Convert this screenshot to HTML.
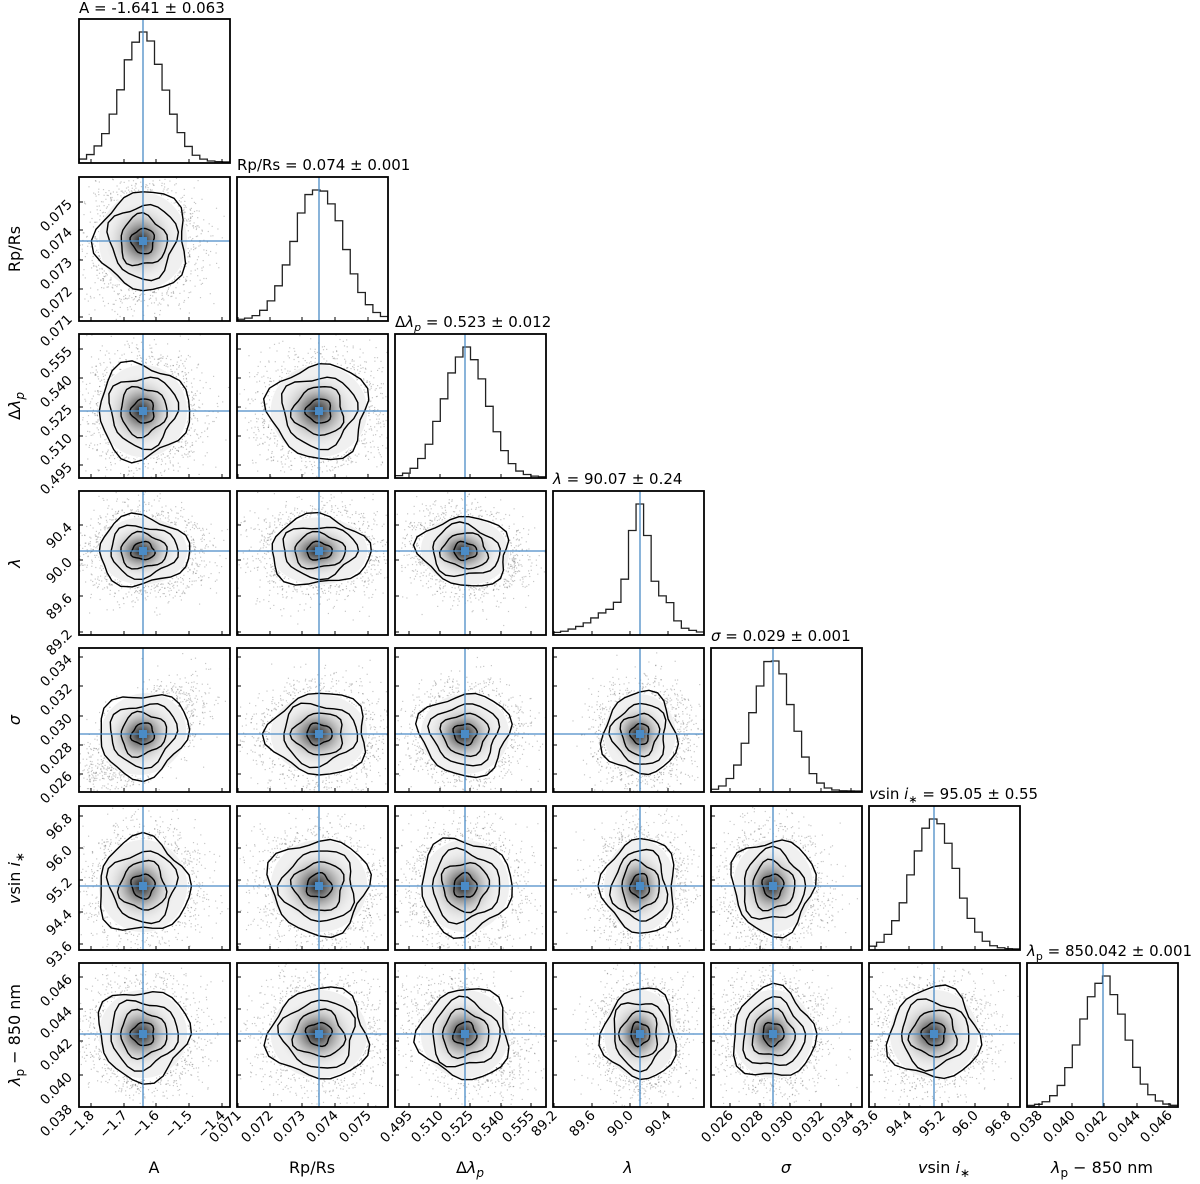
<!DOCTYPE html>
<html><head><meta charset="utf-8"><style>
html,body{margin:0;padding:0;background:#fff;}
svg{display:block;font-family:"DejaVu Sans","Liberation Sans",sans-serif;}
.t{font-size:13.5px;fill:#000;}
.ti{font-size:15px;fill:#000;}
.al{font-size:16px;fill:#000;}
</style></head><body>
<svg id="s" width="1200" height="1184" viewBox="0 0 1200 1184" xmlns="http://www.w3.org/2000/svg">
<defs id="defs"></defs>
<g id="g"></g>
<text class="ti" x="79" y="13">A = -1.641 ± 0.063</text>
<text class="ti" x="237" y="170">Rp/Rs = 0.074 ± 0.001</text>
<text class="ti" x="395" y="327">Δ<tspan font-style="italic">λ</tspan><tspan font-size="11" dy="4" font-style="italic">p</tspan><tspan dy="-4"> = 0.523 ± 0.012</tspan></text>
<text class="ti" x="553" y="484"><tspan font-style="italic">λ</tspan> = 90.07 ± 0.24</text>
<text class="ti" x="711" y="641"><tspan font-style="italic">σ</tspan> = 0.029 ± 0.001</text>
<text class="ti" x="869" y="799"><tspan font-style="italic">v</tspan>sin <tspan font-style="italic">i</tspan><tspan font-size="11" dy="4">∗</tspan><tspan dy="-4"> = 95.05 ± 0.55</tspan></text>
<text class="ti" x="1027" y="956"><tspan font-style="italic">λ</tspan><tspan font-size="11" dy="4">p</tspan><tspan dy="-4"> = 850.042 ± 0.001</tspan></text>
<g class="t" text-anchor="end">
<text x="95" y="1116" transform="rotate(-45 95 1116)">−1.8</text>
<text x="128" y="1116" transform="rotate(-45 128 1116)">−1.7</text>
<text x="160" y="1116" transform="rotate(-45 160 1116)">−1.6</text>
<text x="193" y="1116" transform="rotate(-45 193 1116)">−1.5</text>
<text x="226" y="1116" transform="rotate(-45 226 1116)">−1.4</text>
<text x="242" y="1116" transform="rotate(-45 242 1116)">0.071</text>
<text x="274" y="1116" transform="rotate(-45 274 1116)">0.072</text>
<text x="306" y="1116" transform="rotate(-45 306 1116)">0.073</text>
<text x="339" y="1116" transform="rotate(-45 339 1116)">0.074</text>
<text x="372" y="1116" transform="rotate(-45 372 1116)">0.075</text>
<text x="413" y="1116" transform="rotate(-45 413 1116)">0.495</text>
<text x="444" y="1116" transform="rotate(-45 444 1116)">0.510</text>
<text x="474" y="1116" transform="rotate(-45 474 1116)">0.525</text>
<text x="505" y="1116" transform="rotate(-45 505 1116)">0.540</text>
<text x="535" y="1116" transform="rotate(-45 535 1116)">0.555</text>
<text x="558" y="1116" transform="rotate(-45 558 1116)">89.2</text>
<text x="596" y="1116" transform="rotate(-45 596 1116)">89.6</text>
<text x="634" y="1116" transform="rotate(-45 634 1116)">90.0</text>
<text x="672" y="1116" transform="rotate(-45 672 1116)">90.4</text>
<text x="734" y="1116" transform="rotate(-45 734 1116)">0.026</text>
<text x="764" y="1116" transform="rotate(-45 764 1116)">0.028</text>
<text x="794" y="1116" transform="rotate(-45 794 1116)">0.030</text>
<text x="825" y="1116" transform="rotate(-45 825 1116)">0.032</text>
<text x="855" y="1116" transform="rotate(-45 855 1116)">0.034</text>
<text x="879" y="1116" transform="rotate(-45 879 1116)">93.6</text>
<text x="913" y="1116" transform="rotate(-45 913 1116)">94.4</text>
<text x="946" y="1116" transform="rotate(-45 946 1116)">95.2</text>
<text x="979" y="1116" transform="rotate(-45 979 1116)">96.0</text>
<text x="1012" y="1116" transform="rotate(-45 1012 1116)">96.8</text>
<text x="1043" y="1116" transform="rotate(-45 1043 1116)">0.038</text>
<text x="1076" y="1116" transform="rotate(-45 1076 1116)">0.040</text>
<text x="1108" y="1116" transform="rotate(-45 1108 1116)">0.042</text>
<text x="1141" y="1116" transform="rotate(-45 1141 1116)">0.044</text>
<text x="1173" y="1116" transform="rotate(-45 1173 1116)">0.046</text>
</g>
<g class="t" text-anchor="end">
<text x="73" y="205" transform="rotate(-45 73 205)">0.075</text>
<text x="73" y="233" transform="rotate(-45 73 233)">0.074</text>
<text x="73" y="263" transform="rotate(-45 73 263)">0.073</text>
<text x="73" y="292" transform="rotate(-45 73 292)">0.072</text>
<text x="73" y="320" transform="rotate(-45 73 320)">0.071</text>
<text x="73" y="352" transform="rotate(-45 73 352)">0.555</text>
<text x="73" y="381" transform="rotate(-45 73 381)">0.540</text>
<text x="73" y="410" transform="rotate(-45 73 410)">0.525</text>
<text x="73" y="439" transform="rotate(-45 73 439)">0.510</text>
<text x="73" y="468" transform="rotate(-45 73 468)">0.495</text>
<text x="73" y="528" transform="rotate(-45 73 528)">90.4</text>
<text x="73" y="563" transform="rotate(-45 73 563)">90.0</text>
<text x="73" y="599" transform="rotate(-45 73 599)">89.6</text>
<text x="73" y="635" transform="rotate(-45 73 635)">89.2</text>
<text x="73" y="660" transform="rotate(-45 73 660)">0.034</text>
<text x="73" y="689" transform="rotate(-45 73 689)">0.032</text>
<text x="73" y="719" transform="rotate(-45 73 719)">0.030</text>
<text x="73" y="748" transform="rotate(-45 73 748)">0.028</text>
<text x="73" y="777" transform="rotate(-45 73 777)">0.026</text>
<text x="73" y="819" transform="rotate(-45 73 819)">96.8</text>
<text x="73" y="851" transform="rotate(-45 73 851)">96.0</text>
<text x="73" y="883" transform="rotate(-45 73 883)">95.2</text>
<text x="73" y="915" transform="rotate(-45 73 915)">94.4</text>
<text x="73" y="947" transform="rotate(-45 73 947)">93.6</text>
<text x="73" y="980" transform="rotate(-45 73 980)">0.046</text>
<text x="73" y="1012" transform="rotate(-45 73 1012)">0.044</text>
<text x="73" y="1044" transform="rotate(-45 73 1044)">0.042</text>
<text x="73" y="1078" transform="rotate(-45 73 1078)">0.040</text>
<text x="73" y="1110" transform="rotate(-45 73 1110)">0.038</text>
</g>
<g class="al" text-anchor="middle">
<text x="154" y="1173">A</text>
<text x="312" y="1173">Rp/Rs</text>
<text x="470" y="1173">Δ<tspan font-style="italic">λ</tspan><tspan font-size="12" dy="4" font-style="italic">p</tspan></text>
<text x="628" y="1173" font-style="italic">λ</text>
<text x="786" y="1173" font-style="italic">σ</text>
<text x="944" y="1173"><tspan font-style="italic">v</tspan>sin <tspan font-style="italic">i</tspan><tspan font-size="12" dy="4">∗</tspan></text>
<text x="1102" y="1173"><tspan font-style="italic">λ</tspan><tspan font-size="12" dy="4">p</tspan><tspan dy="-4"> − 850 nm</tspan></text>
<text x="20" y="249" transform="rotate(-90 20 249)">Rp/Rs</text>
<text x="20" y="406" transform="rotate(-90 20 406)">Δ<tspan font-style="italic">λ</tspan><tspan font-size="12" dy="4" font-style="italic">p</tspan></text>
<text x="20" y="563" transform="rotate(-90 20 563)" font-style="italic">λ</text>
<text x="20" y="720" transform="rotate(-90 20 720)" font-style="italic">σ</text>
<text x="20" y="878" transform="rotate(-90 20 878)"><tspan font-style="italic">v</tspan>sin <tspan font-style="italic">i</tspan><tspan font-size="12" dy="4">∗</tspan></text>
<text x="20" y="1035" transform="rotate(-90 20 1035)"><tspan font-style="italic">λ</tspan><tspan font-size="12" dy="4">p</tspan><tspan dy="-4"> − 850 nm</tspan></text>
</g>
</svg>
<script>
(function(){
var NS="http://www.w3.org/2000/svg";
var g=document.getElementById('g'),defs=document.getElementById('defs');
var X=[79,237,395,553,711,869,1027],W=151;
var Y=[19,177,334,491,648,806,963],H=144;
var CX=[143,319,465,640,773,934,1103];
var CY=[0,241,411,551,734,886,1034];
var SX=[21,23,21,17,19,21,21];
var SY=[0,23,22,16,19,22,21];
var BT=[[12,45,77,110,143],[1,33,65,98,131],[14,45,75,106,136],[1,39,77,115],[19,49,79,110,140],[6,40,73,106,139],[12,45,77,110,142]];
var LT=[[],[25,53,83,112,140],[15,44,73,102,131],[34,69,105,141],[9,38,68,97,126],[10,42,74,106,138],[14,46,78,112,144]];
var BLUE="#4a8bc6";
var seed=12345;function rnd(){seed=(seed*16807)%2147483647;return seed/2147483647;}
function gauss(){var u=rnd()||1e-9,v=rnd();return Math.sqrt(-2*Math.log(u))*Math.cos(2*Math.PI*v);}
function el(n,a,p){var e=document.createElementNS(NS,n);for(var k in a)e.setAttribute(k,a[k]);(p||g).appendChild(e);return e;}
var rg=el('radialGradient',{id:'rg'},defs);
el('stop',{offset:'0','stop-color':'#000','stop-opacity':'0.9'},rg);
el('stop',{offset:'0.3','stop-color':'#444','stop-opacity':'0.65'},rg);
el('stop',{offset:'0.65','stop-color':'#999','stop-opacity':'0.3'},rg);
el('stop',{offset:'1','stop-color':'#ddd','stop-opacity':'0'},rg);
var corr={"4,0":0.6,"6,2":-0.3,"3,2":-0.15};
for(var i=0;i<7;i++){
 for(var j=0;j<=i;j++){
  var x0=X[j],y0=Y[i];
  var cp=el('clipPath',{id:'c'+i+'_'+j},defs);el('rect',{x:x0,y:y0,width:W,height:H},cp);
  var pg=el('g',{'clip-path':'url(#c'+i+'_'+j+')'});
  if(i==j){
   var nb=20,bw=W/nb,cx=CX[j]-x0,s=SX[j]*1.05;var hs=[],mx=0;
   for(var b=0;b<nb;b++){var m=(b+0.5)*bw;var v=Math.exp(-0.5*Math.pow((m-cx)/s,2));
     if(j==3){v=Math.exp(-0.5*Math.pow((m-cx)/9,2))+0.3*Math.exp(-0.5*Math.pow((m-cx+10)/30,2))+0.2*Math.exp(-0.5*Math.pow((m-cx-27)/6,2));}
     v*=1+0.08*(rnd()-0.5);hs.push(v);if(v>mx)mx=v;}
   var d="M"+x0+","+(y0+H);
   for(var b=0;b<nb;b++){var hy=y0+H-hs[b]/mx*(H-14)-1;d+=" L"+(x0+b*bw)+","+hy+" L"+(x0+(b+1)*bw)+","+hy;}
   el('path',{d:d,fill:'none',stroke:'#222','stroke-width':1.3},pg);
   el('line',{x1:CX[j],y1:y0,x2:CX[j],y2:y0+H,stroke:BLUE,'stroke-width':1.3},pg);
  }else{
   var cx=CX[j],cy=CY[i],sx=SX[j],sy=SY[i],r=corr[i+','+j]||0;
   for(var k=0;k<2200;k++){var a=gauss(),b2=gauss();var px=cx+sx*a*1.3,py=cy-sy*1.3*(r*a+Math.sqrt(1-r*r)*b2);
     el('rect',{x:px.toFixed(1),y:py.toFixed(1),width:1.2,height:1.2,fill:'#000','fill-opacity':0.22},pg);}
   var rot=r?(-Math.atan2(r*sy,sx)*180/Math.PI):0;
   el('ellipse',{cx:cx,cy:cy,rx:sx*2.15,ry:sy*2.15,fill:'#fff','fill-opacity':0.9,transform:'rotate('+rot+' '+cx+' '+cy+')'},pg);
   el('ellipse',{cx:cx,cy:cy,rx:sx*2.1,ry:sy*2.1,fill:'#eee','fill-opacity':0.9,transform:'rotate('+rot+' '+cx+' '+cy+')'},pg);
   el('ellipse',{cx:cx-2,cy:cy,rx:sx*1.7,ry:sy*1.7,fill:'url(#rg)',transform:'rotate('+rot+' '+cx+' '+cy+')'},pg);
   var lev=[0.55,1.1,1.6,2.15];
   for(var l=0;l<4;l++){var d="";var n=28;var ph=rnd()*6;
     for(var t=0;t<=n;t++){var th=t/n*2*Math.PI;var w=1+0.09*Math.sin(3*th+ph)+0.06*Math.cos(5*th+ph*2);
       var ex=Math.cos(th)*sx*lev[l]*w,ey=Math.sin(th)*sy*lev[l]*w;
       var rr=rot*Math.PI/180;var qx=cx+ex*Math.cos(rr)-ey*Math.sin(rr),qy=cy+ex*Math.sin(rr)+ey*Math.cos(rr);
       d+=(t?" L":"M")+qx.toFixed(1)+","+qy.toFixed(1);}
     el('path',{d:d,fill:'none',stroke:'#000','stroke-width':1.4},pg);}
   el('line',{x1:x0,y1:cy,x2:x0+W,y2:cy,stroke:BLUE,'stroke-width':1.3},pg);
   el('line',{x1:cx,y1:y0,x2:cx,y2:y0+H,stroke:BLUE,'stroke-width':1.3},pg);
   el('rect',{x:cx-4,y:cy-4,width:8,height:8,fill:BLUE},pg);
   for(var q=0;q<LT[i].length;q++){var ty=y0+LT[i][q];el('line',{x1:x0,y1:ty,x2:x0+4,y2:ty,stroke:'#000','stroke-width':1});}
  }
  for(var q=0;q<BT[j].length;q++){var tx=x0+BT[j][q];el('line',{x1:tx,y1:y0+H,x2:tx,y2:y0+H-4,stroke:'#000','stroke-width':1});}
  el('rect',{x:x0,y:y0,width:W,height:H,fill:'none',stroke:'#000','stroke-width':1.8});
 }
}
})();
</script>
</body></html>
